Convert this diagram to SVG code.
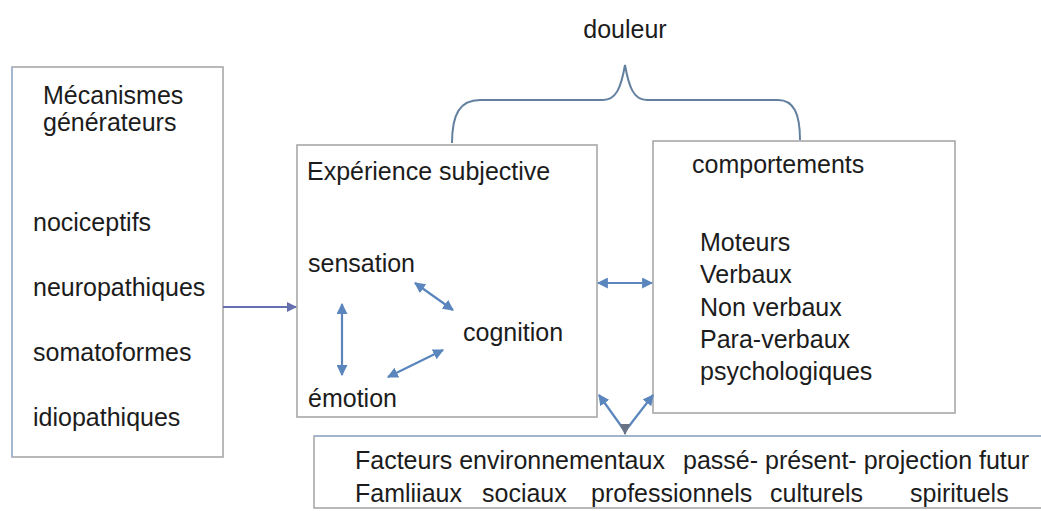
<svg xmlns="http://www.w3.org/2000/svg" width="1041" height="511" viewBox="0 0 1041 511">
<style>
.box{fill:#ffffff;stroke:#a8a8a8;stroke-width:1.6}
.t{font-family:"Liberation Sans",Arial,sans-serif;font-size:25px;fill:#1c1c1c}
.arr{stroke:#5a86bd;stroke-width:2.2;fill:none}
</style>
<defs>
<marker id="ah" viewBox="0 0 10 10" refX="9" refY="5" markerWidth="5" markerHeight="5" orient="auto-start-reverse" markerUnits="strokeWidth">
<path d="M0,0 L10,5 L0,10 Z" fill="#5a86bd"/>
</marker>
<marker id="ahp" viewBox="0 0 10 10" refX="9" refY="5" markerWidth="5" markerHeight="5" orient="auto" markerUnits="strokeWidth">
<path d="M0,0 L10,5 L0,10 Z" fill="#6670b0"/>
</marker>
<marker id="ahd" viewBox="0 0 10 10" refX="9" refY="5" markerWidth="5.5" markerHeight="5.5" orient="auto" markerUnits="strokeWidth">
<path d="M0,0 L10,5 L0,10 Z" fill="#6a7384"/>
</marker>
</defs>
<rect width="1041" height="511" fill="#ffffff"/>

<g id="douleur">
<text class="t" x="625" y="38" text-anchor="middle">douleur</text>
<path d="M452,143 C452,114 460,100 480,100 L603,100 C616,100 621,88 625,65 C629,88 634,100 647,100 L778,100 C794,100 800,114 800,140" fill="none" stroke="#63809f" stroke-width="2"/>
</g>

<g id="mecanismes">
<rect class="box" x="12" y="67" width="211" height="390"/>
<line x1="12" y1="67" x2="12" y2="457" stroke="#9db6d6" stroke-width="1.6"/>
<text class="t" x="43" y="104">Mécanismes</text>
<text class="t" x="43" y="131">générateurs</text>
<text class="t" x="33" y="231">nociceptifs</text>
<text class="t" x="33" y="296">neuropathiques</text>
<text class="t" x="33" y="361">somatoformes</text>
<text class="t" x="33" y="426">idiopathiques</text>
</g>

<g id="experience">
<rect class="box" x="297" y="145" width="300" height="272"/>
<text class="t" x="307" y="180">Expérience subjective</text>
<text class="t" x="308" y="272">sensation</text>
<text class="t" x="463" y="341">cognition</text>
<text class="t" x="308" y="407">émotion</text>
</g>

<g id="comportements">
<rect class="box" x="653" y="141" width="302" height="272"/>
<text class="t" x="692" y="173">comportements</text>
<text class="t" x="700" y="251">Moteurs</text>
<text class="t" x="700" y="283">Verbaux</text>
<text class="t" x="700" y="316">Non verbaux</text>
<text class="t" x="700" y="348">Para-verbaux</text>
<text class="t" x="700" y="380">psychologiques</text>
</g>

<g id="facteurs">
<rect class="box" x="314" y="436" width="740" height="72"/>
<line x1="314" y1="436" x2="1041" y2="436" stroke="#9ab3d3" stroke-width="1.6"/>
<text class="t" x="355" y="469">Facteurs environnementaux</text>
<text class="t" x="683" y="469">passé- présent- projection futur</text>
<text class="t" x="355" y="502">Famliiaux</text>
<text class="t" x="482" y="502">sociaux</text>
<text class="t" x="591" y="502">professionnels</text>
<text class="t" x="770" y="502">culturels</text>
<text class="t" x="910" y="502">spirituels</text>
</g>

<g id="connectors">
<line x1="223" y1="307" x2="296" y2="307" stroke="#6670b0" stroke-width="2" marker-end="url(#ahp)"/>
<line class="arr" x1="598" y1="283" x2="652" y2="283" marker-start="url(#ah)" marker-end="url(#ah)"/>
<line class="arr" x1="342" y1="304" x2="342" y2="375" marker-start="url(#ah)" marker-end="url(#ah)"/>
<line class="arr" x1="415" y1="283" x2="453" y2="310" marker-start="url(#ah)" marker-end="url(#ah)"/>
<line class="arr" x1="443" y1="350" x2="388" y2="377" marker-start="url(#ah)" marker-end="url(#ah)"/>
<line class="arr" x1="624" y1="430" x2="599" y2="395" marker-end="url(#ah)"/>
<line class="arr" x1="626" y1="430" x2="653" y2="395" marker-end="url(#ah)"/>
<line x1="625" y1="424" x2="625" y2="434" stroke="#6a7384" stroke-width="2" marker-end="url(#ahd)"/>
</g>
</svg>
